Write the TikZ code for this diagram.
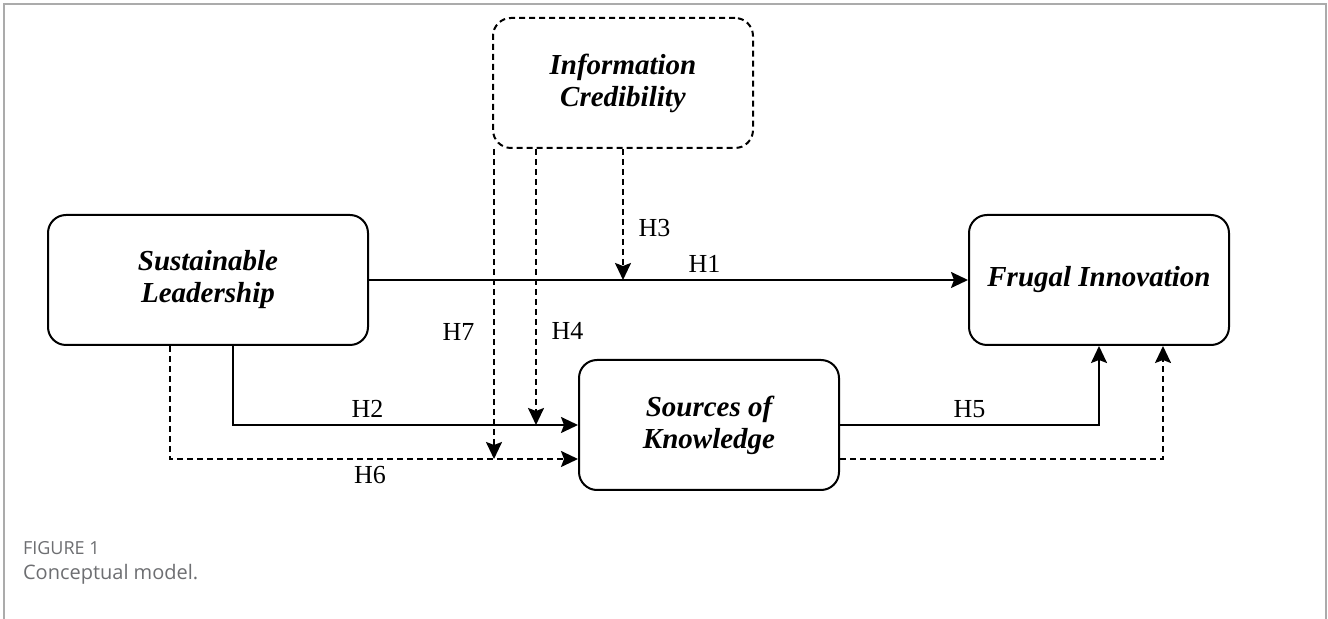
\documentclass[tikz,border=0pt]{standalone}
\usepackage{fontspec}
\setmainfont{Liberation Serif}
\newfontfamily\capfont{Open Sans}
\usetikzlibrary{positioning, calc, arrows.meta}
\definecolor{FrameGray}{HTML}{ABABAB}
\definecolor{CapGray}{HTML}{6D6E71}

\begin{document}
\begin{tikzpicture}[x=0.5pt, y=-0.5pt,
    construct/.style={draw, line width=1pt, rounded corners=9pt,
      minimum width=130pt, minimum height=65pt, align=center,
      font=\fontsize{14.5}{16}\selectfont\bfseries\itshape},
    link/.style={line width=1pt, -{Stealth[length=8.5pt, width=8pt, inset=1.5pt]}},
    modlink/.style={link, dash pattern=on 3pt off 2pt},
    hlabel/.style={font=\fontsize{13}{15}\selectfont}]
  \useasboundingbox (0,0) rectangle (1328,619);
  \draw[FrameGray, line width=0.8pt] (4,619) -- (4,4) -- (1326,4) -- (1326,619);

  \node[construct, dash pattern=on 3pt off 2pt] (ic) at (623,83) {Information\\Credibility};
  \node[construct, minimum width=160pt] (sl) at (208,280) {Sustainable\\Leadership};
  \node[construct] (fi) at (1099,280) {Frugal Innovation};
  \node[construct] (sk) at (709,425) {Sources of\\Knowledge};

  \draw[link] (sl) -- node[hlabel, above, pos=0.56] {H1} (fi);
  \draw[modlink] (ic.south) -- node[hlabel, right, pos=0.6, xshift=4pt] {H3} (ic.south |- sl.east);
  \draw[modlink] ($(ic.south west)+(44,0)$) coordinate (h4top)
    -- node[hlabel, right, pos=0.66, xshift=4pt] {H4} (h4top |- sk.west);
  \draw[modlink] ($(ic.south west)+(2,0)$) coordinate (h7top)
    -- node[hlabel, left, pos=0.59, xshift=-6pt] {H7} ($(h7top |- sk.west)+(0,34)$);
  \draw[link] ($(sl.south)+(25,0)$) |- node[hlabel, above, pos=0.695] {H2} (sk.west);
  \draw[modlink] ($(sl.south)+(-38,0)$) |- node[hlabel, below, pos=0.745] {H6} ($(sk.west)+(0,34)$);
  \draw[link] (sk.east) -| node[hlabel, above, pos=0.25] {H5} (fi.south);
  \draw[modlink] ($(sk.east)+(0,34)$) -| ($(fi.south)+(64,0)$);

  \node[anchor=west, text=CapGray, font=\capfont\fontsize{9}{11}\selectfont] (fig) at (16,548) {FIGURE 1};
  \node[anchor=north west, text=CapGray, font=\capfont\fontsize{10}{12}\selectfont, inner ysep=1pt] (cap) at (fig.south west) {Conceptual model.};
\end{tikzpicture}
\end{document}
